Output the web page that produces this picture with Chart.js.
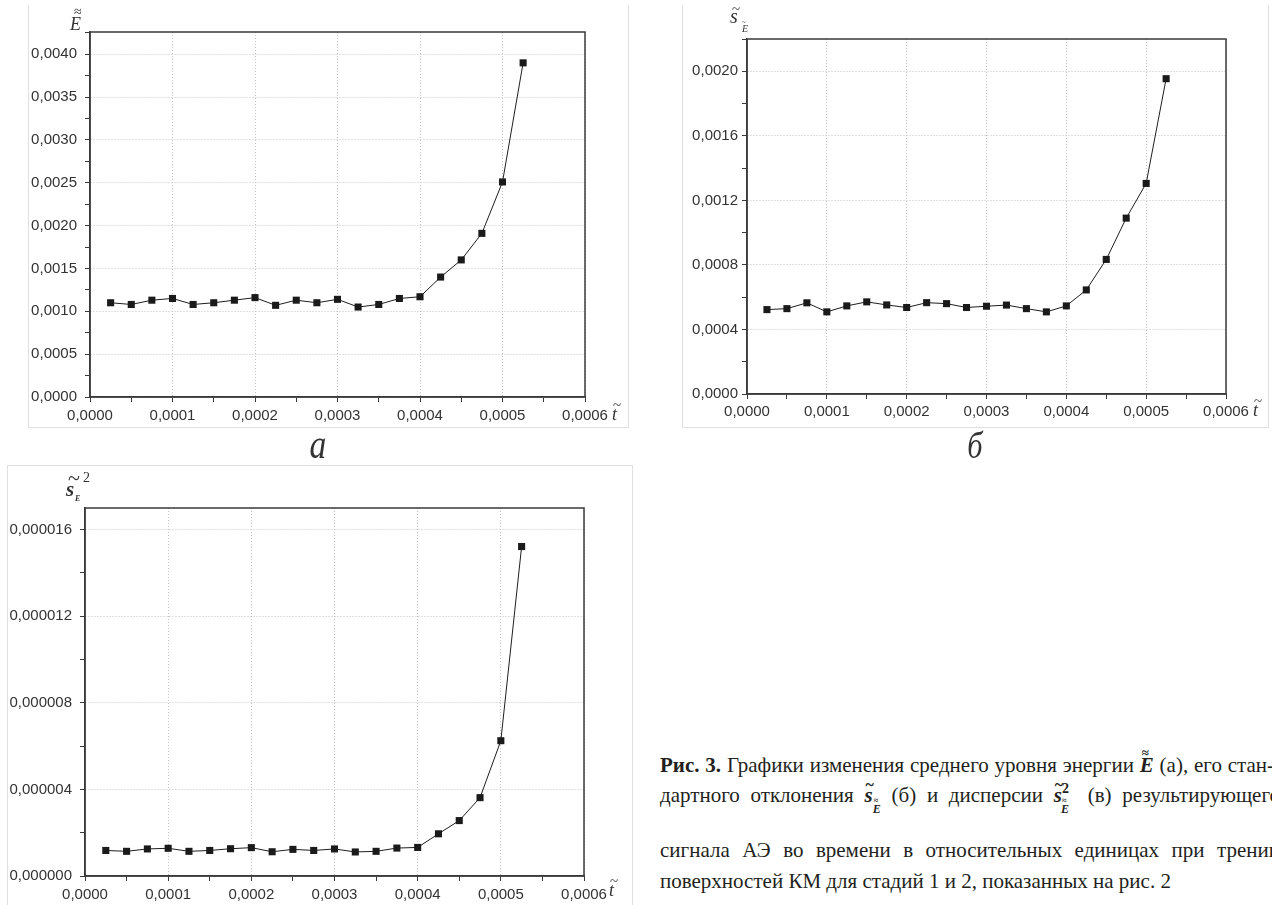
<!DOCTYPE html>
<html lang="ru">
<head>
<meta charset="utf-8">
<title>Рис. 3</title>
<script src="https://cdn.jsdelivr.net/npm/chart.js@4.4.1/dist/chart.umd.min.js"></script>
<style>
    html, body { margin: 0; padding: 0; background: #fff; }
    body { position: relative; width: 1272px; height: 905px; overflow: hidden; font-family: "Liberation Serif", "DejaVu Serif", serif; color: #222; }
    .moldura { position: absolute; box-sizing: border-box; border: 1px solid #e0e0e0; }
    canvas { position: absolute; }
    .txt { position: absolute; line-height: 1; white-space: nowrap; color: #333; }
    .it { font-style: italic; }
    .bi { font-style: italic; font-weight: bold; }
    .letra { position: absolute; line-height: 1; font-style: italic; color: #333; transform: translateX(-50%) scaleX(0.8); }
    .legenda { position: absolute; left: 660px; width: 620px; font-size: 21px; line-height: 1; color: #231f20; }
    .just { text-align: justify; text-align-last: justify; }
    .fm { position: relative; display: inline-block; font-weight: bold; font-style: italic; }
    .fm .ac { position: absolute; font-style: normal; line-height: 1; }
    .fm .sb { position: relative; display: inline-block; font-size: 12px; top: 11px; }
    .fm .sp { position: relative; display: inline-block; font-size: 14px; font-style: normal; top: -9px; }
</style>
</head>
<body>

<!-- molduras das figuras -->
<div class="moldura" style="left:28px;top:5px;width:601px;height:423px;border-top-color:transparent"></div>
<div class="moldura" style="left:682px;top:5px;width:587px;height:423px;border-top-color:transparent"></div>
<div class="moldura" style="left:7px;top:465px;width:626px;height:460px"></div>

<canvas id="graficoEnergia" width="600" height="422" style="left:28px;top:5px"></canvas>
<canvas id="graficoDesvio" width="586" height="422" style="left:682px;top:5px"></canvas>
<canvas id="graficoDispersao" width="625" height="440" style="left:7px;top:465px"></canvas>

<!-- títulos dos eixos -->
<div class="txt it" style="left:70px;top:15px;font-size:18px">E</div>
<div class="txt" style="left:74px;top:5px;font-size:14px">≈</div>

<div class="txt it" style="left:730px;top:6px;font-size:20px">s</div>
<div class="txt" style="left:732px;top:2px;font-size:15px">~</div>
<div class="txt it" style="left:742px;top:24px;font-size:10px">E</div>
<div class="txt" style="left:742px;top:19px;font-size:7px">~</div>

<div class="txt bi" style="left:66px;top:479px;font-size:21px">s</div>
<div class="txt" style="left:68px;top:467px;font-size:22px">~</div>
<div class="txt" style="left:83px;top:471px;font-size:14px">2</div>
<div class="txt bi" style="left:75px;top:495px;font-size:8px">E</div>

<div class="txt it" style="left:612px;top:405px;font-size:18px">t</div>
<div class="txt" style="left:613px;top:398px;font-size:15px">~</div>
<div class="txt it" style="left:1253px;top:401px;font-size:18px">t</div>
<div class="txt" style="left:1254px;top:394px;font-size:15px">~</div>
<div class="txt it" style="left:609px;top:881px;font-size:18px">t</div>
<div class="txt" style="left:610px;top:874px;font-size:15px">~</div>

<!-- letras das figuras -->
<div class="letra" style="left:318px;top:423px;font-size:42px">а</div>
<div class="letra" style="left:975px;top:426px;font-size:38px">б</div>

<!-- legenda -->
<div class="legenda just" style="top:755px;width:614px"><b>Рис. 3.</b> Графики изменения среднего уровня энергии <span class="fm">E<span class="ac" style="left:2px;top:-9px;font-size:13px">≈</span></span> (а), его стан-</div>
<div class="legenda just" style="top:785px">дартного отклонения <span class="fm">s<span class="ac" style="left:1px;top:-8px;font-size:16px">~</span><span class="sb">E<span class="ac" style="left:1px;top:-6px;font-size:8px">≈</span></span></span> (б) и дисперсии <span class="fm">s<span class="ac" style="left:1px;top:-8px;font-size:16px">~</span><span class="sp">2</span><span class="sb" style="left:-8px">E<span class="ac" style="left:1px;top:-6px;font-size:8px">≈</span></span></span> (в) результирующего</div>
<div class="legenda just" style="top:840px">сигнала АЭ во времени в относительных единицах при трении</div>
<div class="legenda" style="top:871px">поверхностей КМ для стадий 1 и 2, показанных на рис. 2</div>

<script>
// ==========================================
// DADOS
// ==========================================
const tempos = [0.000025, 0.00005, 0.000075, 0.0001, 0.000125, 0.00015, 0.000175, 0.0002,
    0.000225, 0.00025, 0.000275, 0.0003, 0.000325, 0.00035, 0.000375, 0.0004,
    0.000425, 0.00045, 0.000475, 0.0005, 0.000525];

const energiaMedia = [0.00110, 0.00108, 0.00113, 0.00115, 0.00108, 0.00110, 0.00113, 0.00116,
    0.00107, 0.00113, 0.00110, 0.00114, 0.00105, 0.00108, 0.00115, 0.00117,
    0.00140, 0.00160, 0.00191, 0.00251, 0.00390];

const desvioPadrao = [0.000523, 0.000529, 0.000565, 0.000509, 0.000546, 0.000571, 0.000552, 0.000536,
    0.000566, 0.000560, 0.000536, 0.000544, 0.000551, 0.000529, 0.000509, 0.000546,
    0.000645, 0.000834, 0.001090, 0.001305, 0.001954];

const dispersao = [0.00000118, 0.00000114, 0.00000125, 0.00000128, 0.00000114, 0.00000118, 0.00000126, 0.00000131,
    0.00000112, 0.00000123, 0.00000118, 0.00000125, 0.00000111, 0.00000114, 0.00000129, 0.00000132,
    0.00000195, 0.00000256, 0.00000362, 0.00000625, 0.00001522];

// marcas com rótulo
const ticksTempo = [0, 0.0001, 0.0002, 0.0003, 0.0004, 0.0005, 0.0006];
const ticksEnergia = [0, 0.0005, 0.001, 0.0015, 0.002, 0.0025, 0.003, 0.0035, 0.004];
const ticksDesvio = [0, 0.0004, 0.0008, 0.0012, 0.0016, 0.002];
const ticksDispersao = [0, 0.000004, 0.000008, 0.000012, 0.000016];

// limites e passo das marcas menores
const limitesTempo = [0, 0.0006, 0.00005];
const limitesEnergia = [0, 0.00426, 0.00025];
const limitesDesvio = [0, 0.0022, 0.0002];
const limitesDispersao = [0, 0.000017, 0.000002];

document.addEventListener("DOMContentLoaded", function () {

    criarGrafico("graficoEnergia", energiaMedia, limitesEnergia, ticksEnergia, 4,
        { topo: 27, direita: 43, larguraY: 62, alturaX: 30, padY: 8, padX: 5 });

    criarGrafico("graficoDesvio", desvioPadrao, limitesDesvio, ticksDesvio, 4,
        { topo: 34, direita: 42, larguraY: 65, alturaX: 33, padY: 4, padX: 4 });

    criarGrafico("graficoDispersao", dispersao, limitesDispersao, ticksDispersao, 6,
        { topo: 43, direita: 48, larguraY: 78, alturaX: 29, padY: 8, padX: 5 });

});

// ==========================================
// AUXILIARES
// ==========================================
function ehMarcado(valor, lista) {
    return lista.some(function (v) {
        return Math.abs(v - valor) < 1e-12;
    });
}

function formatar(valor, casas) {
    return valor.toFixed(casas).replace(".", ",");
}

// moldura preta em volta da área do gráfico
const moldura = {
    id: "moldura",
    beforeDatasetsDraw(chart) {
        const { ctx, chartArea } = chart;
        ctx.save();
        ctx.strokeStyle = "#3a3a3a";
        ctx.lineWidth = 1.5;
        ctx.strokeRect(chartArea.left, chartArea.top, chartArea.right - chartArea.left, chartArea.bottom - chartArea.top);
        ctx.restore();
    }
};

function eixo(limites, marcados, casas, horizontal, tamanho, padding) {
    return {
        type: "linear",
        position: horizontal ? "bottom" : "left",
        min: limites[0],
        max: limites[1],
        afterFit: function (escala) {
            if (horizontal) {
                escala.height = tamanho;
                escala.paddingLeft = 0;
                escala.paddingRight = 0;
            } else {
                escala.width = tamanho;
                escala.paddingTop = 0;
                escala.paddingBottom = 0;
            }
        },
        grid: {
            color: function (c) {
                return (c.tick && ehMarcado(c.tick.value, marcados)) ? "#c2c2c2" : "transparent";
            },
            lineWidth: 1,
            tickColor: "#3a3a3a",
            tickLength: 5,
            tickWidth: 1
        },
        border: { display: true, color: "#3a3a3a", width: 1.5, dash: [1, 2] },
        ticks: {
            stepSize: limites[2],
            includeBounds: false,
            autoSkip: false,
            maxRotation: 0,
            minRotation: 0,
            padding: padding,
            color: "#333",
            font: { family: "'Liberation Sans Narrow', 'Liberation Sans', sans-serif", size: 15 },
            callback: function (valor) {
                return ehMarcado(valor, marcados) ? formatar(valor, casas) : "";
            }
        }
    };
}

// ==========================================
// GRÁFICO (linha + quadrados)
// ==========================================
function criarGrafico(id, valores, limitesY, ticksY, casasY, g) {
    const ctx = document.getElementById(id);
    if (!ctx) return;

    const pontos = tempos.map(function (t, i) {
        return { x: t, y: valores[i] };
    });

    new Chart(ctx, {
        type: "line",
        data: {
            datasets: [{
                data: pontos,
                borderColor: "#1e1e1e",
                borderWidth: 1,
                backgroundColor: "#1a1a1a",
                pointStyle: "rect",
                pointRadius: 5,
                pointBorderWidth: 0,
                tension: 0
            }]
        },
        options: {
            responsive: false,
            animation: false,
            events: [],
            layout: { padding: { top: g.topo, right: g.direita, left: 0, bottom: 0 } },
            plugins: {
                legend: { display: false },
                tooltip: { enabled: false }
            },
            scales: {
                x: eixo(limitesTempo, ticksTempo, 4, true, g.alturaX, g.padX),
                y: eixo(limitesY, ticksY, casasY, false, g.larguraY, g.padY)
            }
        },
        plugins: [moldura]
    });
}
</script>
</body>
</html>
